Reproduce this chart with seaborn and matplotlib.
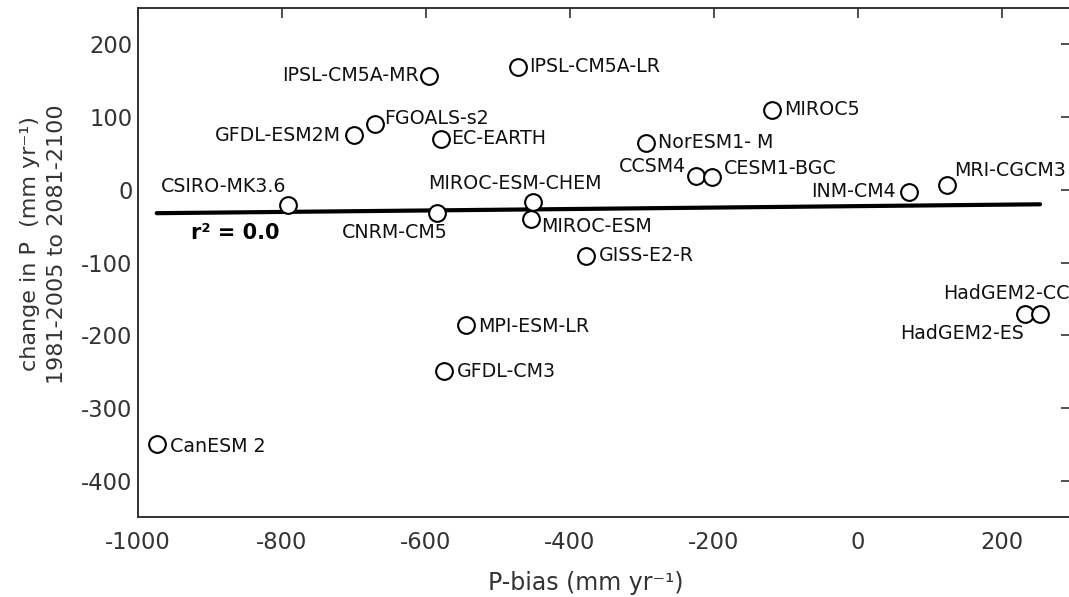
import numpy as np
import pandas as pd
import matplotlib
matplotlib.use("Agg")
import matplotlib.pyplot as plt
import seaborn as sns

# ---- data ----
models = ["CanESM 2", "CSIRO-MK3.6", "GFDL-ESM2M", "FGOALS-s2", "IPSL-CM5A-MR",
          "EC-EARTH", "CNRM-CM5", "MPI-ESM-LR", "GFDL-CM3", "IPSL-CM5A-LR",
          "MIROC-ESM-CHEM", "MIROC-ESM", "GISS-E2-R", "NorESM1- M", "CCSM4",
          "CESM1-BGC", "MIROC5", "INM-CM4", "MRI-CGCM3", "HadGEM2-ES", "HadGEM2-CC"]
p_bias = [-974, -792, -700, -671, -596, -579, -585, -544, -575, -472,
          -451, -454, -378, -294, -225, -203, -119, 71, 124, 232, 253]
p_change = [-349, -21, 75, 90, 157, 70, -32, -186, -249, 169,
            -17, -40, -91, 65, 19, 17, 110, -3, 7, -171, -171]
x_ticks = [-1000, -800, -600, -400, -200, 0, 200]
y_ticks = [-400, -300, -200, -100, 0, 100, 200]

# label placement (offset in pixels, horizontal alignment)
label_pos = {
    "CanESM 2": (13, -3, "left"), "CSIRO-MK3.6": (-1, 19, "right"),
    "GFDL-ESM2M": (-13, 0, "right"), "FGOALS-s2": (9, 6, "left"),
    "IPSL-CM5A-MR": (-10, 0, "right"), "EC-EARTH": (10, 0, "left"),
    "CNRM-CM5": (11, -19, "right"), "MPI-ESM-LR": (12, -1, "left"),
    "GFDL-CM3": (13, -1, "left"), "IPSL-CM5A-LR": (11, 0, "left"),
    "MIROC-ESM-CHEM": (-105, 19, "left"), "MIROC-ESM": (10, -8, "left"),
    "GISS-E2-R": (13, 0, "left"), "NorESM1- M": (12, 0, "left"),
    "CCSM4": (-10, 9, "right"), "CESM1-BGC": (12, 9, "left"),
    "MIROC5": (12, 0, "left"), "INM-CM4": (-13, 0, "right"),
    "MRI-CGCM3": (7, 14, "left"), "HadGEM2-ES": (-1, -19, "right"),
    "HadGEM2-CC": (-97, 21, "left"),
}

df = pd.DataFrame({"model": models, "bias": p_bias, "change": p_change})

sns.set_theme(style="white")
plt.rcParams["font.family"] = ["DejaVu Sans"]
plt.rcParams["axes.unicode_minus"] = False

W, H = 1069, 597
fig = plt.figure(figsize=(W / 100, H / 100), dpi=100)
ax_l, ax_r, ax_t, ax_b = 138, 1071, 8, 517
ax = fig.add_axes([ax_l / W, (H - ax_b) / H, (ax_r - ax_l) / W, (ax_b - ax_t) / H])

sns.regplot(data=df, x="bias", y="change", ci=None, scatter=False, ax=ax,
            truncate=True, line_kws=dict(color="black", lw=3))
sns.scatterplot(data=df, x="bias", y="change", ax=ax, marker="o", s=145,
                facecolor="white", edgecolor="black", linewidth=1.5, zorder=3)

for m, xv, yv in zip(models, p_bias, p_change):
    dx, dy, ha = label_pos[m]
    ax.annotate(m, (xv, yv), xytext=(dx, dy), textcoords="offset pixels",
                ha=ha, va="center", fontsize=13.7, color="#111111",
                annotation_clip=False, clip_on=False)

r2 = np.corrcoef(p_bias, p_change)[0, 1] ** 2
ax.text(-865, -59, f"r² = {r2:.1f}", fontsize=15, fontweight="bold",
        ha="center", va="center", color="black")

ax.set_xlim(-1000, 296)
ax.set_ylim(-450, 250)
ax.set_xticks(x_ticks)
ax.set_yticks(y_ticks)
ax.set_xticklabels([str(v) for v in x_ticks])
ax.set_yticklabels([str(v) for v in y_ticks])
ax.tick_params(direction="in", length=7.5, width=1.2, color="#333333",
               labelsize=16.3, labelcolor="#333333", top=True, right=True)
ax.tick_params(axis="x", pad=10)
ax.tick_params(axis="y", pad=4)
for sp in ax.spines.values():
    sp.set_color("#333333")
    sp.set_linewidth(1.4)
    sp.set_visible(True)

ax.set_xlabel("P-bias (mm yr⁻¹)", fontsize=17, color="#333333")
ax.set_ylabel("change in P  (mm yr⁻¹)\n1981-2005 to 2081-2100", fontsize=16,
              color="#333333", linespacing=1.45)
ax_w, ax_h = ax_r - ax_l, ax_b - ax_t
ax.xaxis.set_label_coords((586 - ax_l) / ax_w, -(571 - ax_b) / ax_h)
ax.yaxis.set_label_coords(-(ax_l - 67) / ax_w, (ax_b - 244) / ax_h)

fig.savefig("out.png", dpi=100)
